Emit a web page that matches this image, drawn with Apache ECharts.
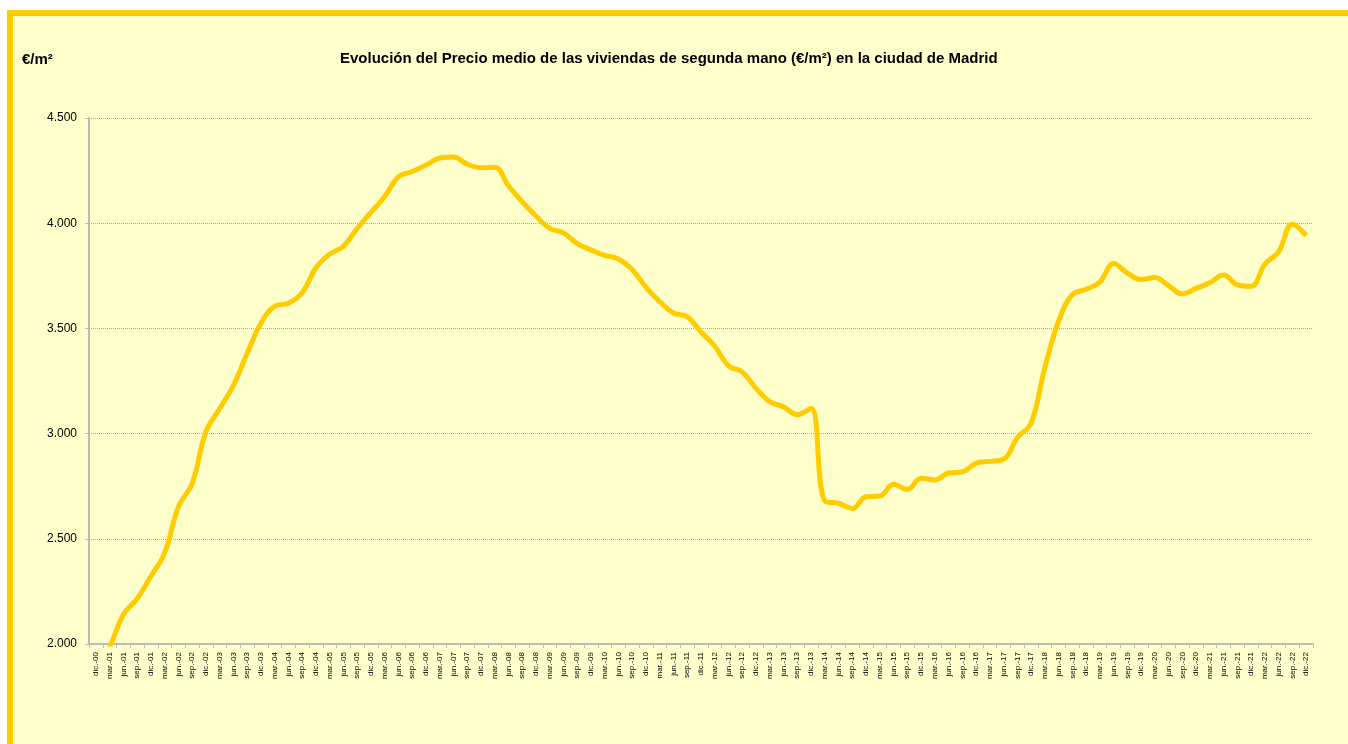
<!DOCTYPE html>
<html>
<head>
<meta charset="utf-8">
<script src="https://cdn.jsdelivr.net/npm/echarts@6/dist/echarts.min.js"></script>
<style>
  html, body { margin: 0; padding: 0; background: #fff; }
  #chart { width: 1348px; height: 744px; }
</style>
</head>
<body>
<div id="chart"></div>
<script>
// trimestres dic-00 .. dic-22
const trimestres = [
  'dic.-00',
  'mar.-01', 'jun.-01', 'sep.-01', 'dic.-01',
  'mar.-02', 'jun.-02', 'sep.-02', 'dic.-02',
  'mar.-03', 'jun.-03', 'sep.-03', 'dic.-03',
  'mar.-04', 'jun.-04', 'sep.-04', 'dic.-04',
  'mar.-05', 'jun.-05', 'sep.-05', 'dic.-05',
  'mar.-06', 'jun.-06', 'sep.-06', 'dic.-06',
  'mar.-07', 'jun.-07', 'sep.-07', 'dic.-07',
  'mar.-08', 'jun.-08', 'sep.-08', 'dic.-08',
  'mar.-09', 'jun.-09', 'sep.-09', 'dic.-09',
  'mar.-10', 'jun.-10', 'sep.-10', 'dic.-10',
  'mar.-11', 'jun.-11', 'sep.-11', 'dic.-11',
  'mar.-12', 'jun.-12', 'sep.-12', 'dic.-12',
  'mar.-13', 'jun.-13', 'sep.-13', 'dic.-13',
  'mar.-14', 'jun.-14', 'sep.-14', 'dic.-14',
  'mar.-15', 'jun.-15', 'sep.-15', 'dic.-15',
  'mar.-16', 'jun.-16', 'sep.-16', 'dic.-16',
  'mar.-17', 'jun.-17', 'sep.-17', 'dic.-17',
  'mar.-18', 'jun.-18', 'sep.-18', 'dic.-18',
  'mar.-19', 'jun.-19', 'sep.-19', 'dic.-19',
  'mar.-20', 'jun.-20', 'sep.-20', 'dic.-20',
  'mar.-21', 'jun.-21', 'sep.-21', 'dic.-21',
  'mar.-22', 'jun.-22', 'sep.-22', 'dic.-22'
];

// precio medio €/m2
const precio = [
  1870,
  1985, 2140, 2215, 2322,
  2432, 2652, 2763, 3008,
  3119, 3229, 3381, 3525,
  3605, 3619, 3669, 3788,
  3853, 3890, 3975, 4051,
  4127, 4220, 4246, 4276,
  4310, 4315, 4280, 4264,
  4266, 4178, 4102, 4034,
  3975, 3954, 3903, 3873,
  3847, 3830, 3780, 3695,
  3627, 3573, 3556, 3483,
  3415, 3322, 3293, 3215,
  3152, 3127, 3090, 3120,
  2680, 2669, 2644, 2700,
  2703, 2759, 2734, 2788,
  2780, 2813, 2818, 2859,
  2868, 2878, 2980, 3050,
  3313, 3534, 3661, 3686,
  3720, 3808, 3763, 3732,
  3742, 3703, 3664, 3690,
  3717, 3754, 3707, 3700,
  3805, 3864, 3995, 3941
];

const ejeY = { min: 2000, max: 4500, paso: 500 };

const chart = echarts.init(document.getElementById('chart'));

function miles(v) {
  return String(v).replace(/\B(?=(\d{3})+(?!\d))/g, '.');
}

const option = {
  backgroundColor: '#ffffff',
  animation: false,
  textStyle: { fontFamily: 'Liberation Sans, Arial, sans-serif' },
  graphic: [
    {
      type: 'rect',
      z: -100,
      shape: { x: 10, y: 13, width: 1400, height: 800 },
      style: { fill: '#FFFFCC', stroke: '#FFCC00', lineWidth: 6 }
    },
    {
      type: 'text',
      left: 22,
      top: 52,
      style: {
        text: '€/m²',
        font: 'bold 15px "Liberation Sans", Arial, sans-serif',
        fill: '#000'
      }
    }
  ],
  title: {
    text: 'Evolución del Precio medio de las viviendas de segunda mano (€/m²) en la ciudad de Madrid',
    left: 335,
    top: 46,
    textStyle: {
      fontSize: 15,
      fontWeight: 'bold',
      color: '#000',
      fontFamily: 'Liberation Sans, Arial, sans-serif'
    }
  },
  grid: { left: 89, right: 35, top: 118, bottom: 100, containLabel: false },
  xAxis: {
    type: 'category',
    data: trimestres,
    boundaryGap: true,
    axisLine: { lineStyle: { color: '#BBBBBB', width: 2 } },
    axisTick: { show: true, length: 4, lineStyle: { color: '#BBBBBB' } },
    axisLabel: {
      interval: 0,
      rotate: 90,
      fontSize: 8,
      color: '#000',
      margin: 8
    },
    splitLine: { show: false }
  },
  yAxis: {
    type: 'value',
    min: ejeY.min,
    max: ejeY.max,
    interval: ejeY.paso,
    axisLine: { show: true, lineStyle: { color: '#BBBBBB', width: 2 } },
    axisTick: { show: true, length: 4, lineStyle: { color: '#BBBBBB' } },
    axisLabel: {
      fontSize: 12,
      color: '#000',
      margin: 12,
      formatter: miles
    },
    splitLine: { lineStyle: { color: '#AAAAAA', type: 'dotted', width: 1 } }
  },
  series: [
    {
      type: 'line',
      data: precio,
      smooth: 0.4,
      symbol: 'none',
      clip: true,
      lineStyle: { color: '#FFCC00', width: 5 },
      itemStyle: { color: '#FFCC00' }
    }
  ]
};

chart.setOption(option);
</script>
</body>
</html>
